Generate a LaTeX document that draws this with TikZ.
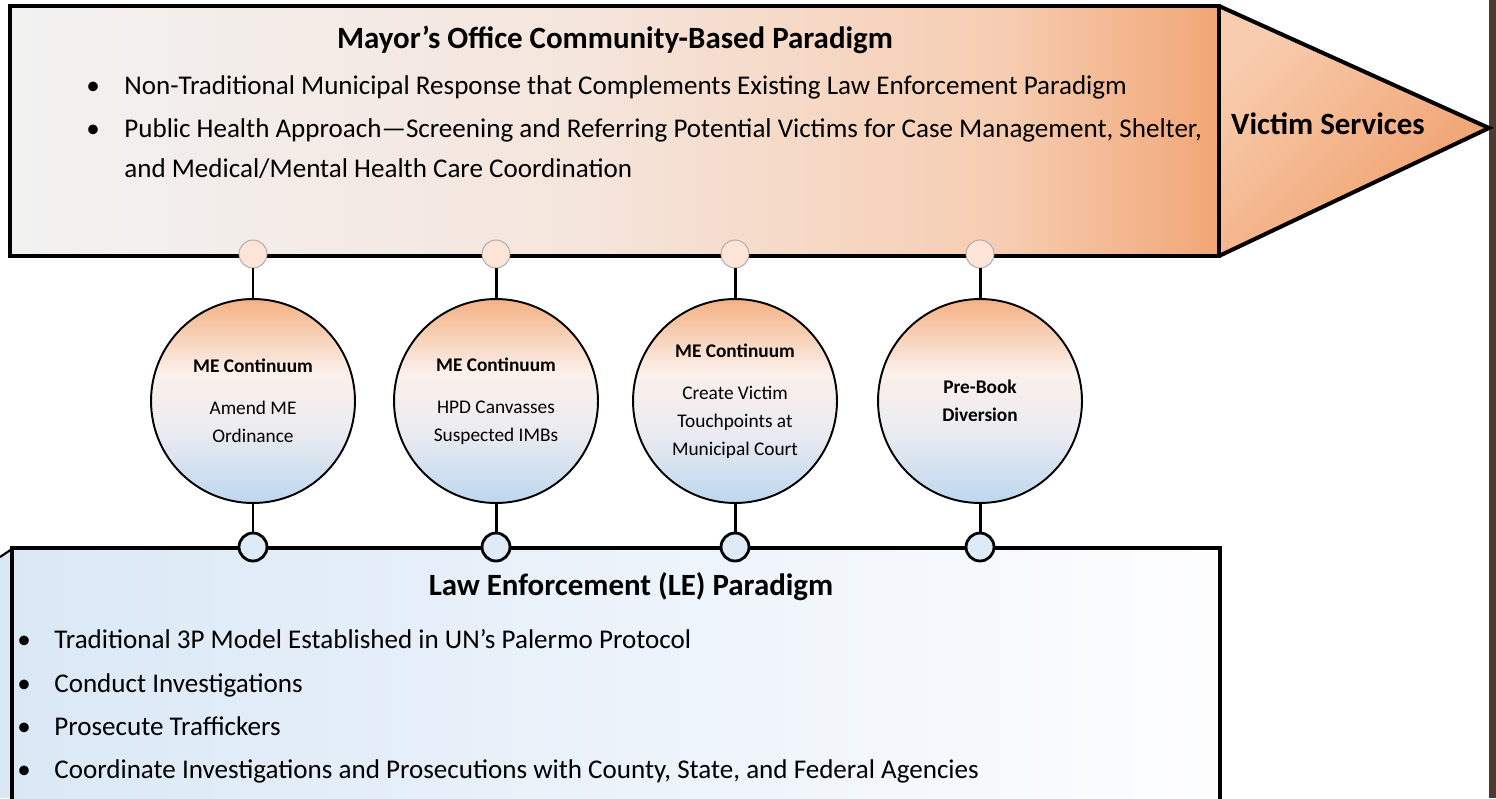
\documentclass[tikz,border=0pt]{standalone}
\usepackage{fontspec}
\setmainfont{Carlito}

\definecolor{mayorL}{HTML}{F2F2F2}
\definecolor{mayorM}{HTML}{F5E5DC}
\definecolor{mayorN}{HTML}{F6CDB2}
\definecolor{mayorR}{HTML}{F1A676}
\definecolor{arrowL}{HTML}{F8CCAE}
\definecolor{arrowR}{HTML}{EF9E6A}
\definecolor{leL}{HTML}{DAE8F6}
\definecolor{leR}{HTML}{FDFDFE}
\definecolor{bubT}{HTML}{F4B183}
\definecolor{bubW}{HTML}{FBF0EA}
\definecolor{bubG}{HTML}{ECECF0}
\definecolor{bubB}{HTML}{BDD7EE}
\definecolor{topdot}{HTML}{FCE4D6}
\definecolor{lowdot}{HTML}{DEEBF7}
\definecolor{strip}{HTML}{4E3B30}

\pgfdeclarehorizontalshading{mayorshade}{100bp}{color(0bp)=(mayorL); color(25bp)=(mayorL); color(49bp)=(mayorM); color(66bp)=(mayorN); color(75bp)=(mayorR); color(100bp)=(mayorR)}
\pgfdeclarehorizontalshading{leshade}{100bp}{color(0bp)=(leL); color(25bp)=(leL); color(75bp)=(leR); color(100bp)=(leR)}
\pgfdeclareverticalshading{bubbleshade}{100bp}{color(0bp)=(bubB); color(25bp)=(bubB); color(43bp)=(bubG); color(57bp)=(bubW); color(75bp)=(bubT); color(100bp)=(bubT)}

\begin{document}
\begin{tikzpicture}[x=0.02cm,y=-0.02cm]
\clip (0,0) rectangle (1496,798);
\fill[white] (0,0) rectangle (1496,798);
\fill[strip] (1489,0) rectangle (1496,798);

\tikzset{frame/.style={draw=black,line width=2.3pt},
  link/.style={line width=1.7pt},
  bubble/.style={circle,draw,line width=1.1pt,shading=bubbleshade,minimum size=4.08cm,inner sep=0pt,align=center,font=\fontsize{11}{16}\selectfont},
  topdotnode/.style={circle,draw=gray!70,line width=0.5pt,fill=topdot,minimum size=0.56cm,inner sep=0pt},
  lowdotnode/.style={circle,draw=black,line width=1.6pt,fill=lowdot,minimum size=0.56cm,inner sep=0pt},
  head/.style={font=\fontsize{17.6}{21}\selectfont\bfseries,anchor=base},
  item/.style={font=\fontsize{15.4}{24}\selectfont,anchor=base west,inner sep=0pt,align=left},
  dot/.style={font=\fontsize{15.4}{24}\selectfont,anchor=base,inner sep=0pt}};

% mayor's office banner
\shade[shading=mayorshade] (10,6) rectangle (1219,256);
\shade[left color=arrowL,right color=arrowR,shading angle=45] (1219,6) -- (1489,128) -- (1219,256) -- cycle;
\draw[frame,line join=miter] (1219,6) -- (10,6) -- (10,256) -- (1219,256) -- cycle;
\draw[frame,line join=miter] (1219,6) -- (1489,128) -- (1219,256);

\node[head] (mtitle) at (615,48) {Mayor’s Office Community-Based Paradigm};
\node[head] (victim) at (1328,134) {Victim Services};
\node[dot] (md1) at (93,94) {\textbullet};
\node[item] (mi1) at (124,94) {Non-Traditional Municipal Response that Complements Existing Law Enforcement Paradigm};
\node[dot] (md2) at (93,137) {\textbullet};
\node[item] (mi2) at (124,137) {Public Health Approach—Screening and Referring Potential Victims for Case Management, Shelter,};
\node[item] (mi3) at (124,177) {and Medical/Mental Health Care Coordination};

% law enforcement box
\fill[leL] (0,557) -- (12,549) -- (12,798) -- (0,798) -- cycle;
\draw[line width=1.2pt] (0,557) -- (12,549);
\shade[shading=leshade] (12,548) rectangle (1220,810);
\draw[frame,line join=miter] (12,810) -- (12,548) -- (1220,548) -- (1220,810);

\node[head] (ltitle) at (631,595) {Law Enforcement (LE) Paradigm};
\node[dot] (ld1) at (24,648) {\textbullet};
\node[item] (li1) at (54,648) {Traditional 3P Model Established in UN’s Palermo Protocol};
\node[dot] (ld2) at (24,692) {\textbullet};
\node[item] (li2) at (54,692) {Conduct Investigations};
\node[dot] (ld3) at (24,735) {\textbullet};
\node[item] (li3) at (54,735) {Prosecute Traffickers};
\node[dot] (ld4) at (24,778) {\textbullet};
\node[item] (li4) at (54,778) {Coordinate Investigations and Prosecutions with County, State, and Federal Agencies};

% continuum circles
\node[bubble] (c1) at (253,401) {\textbf{ME Continuum}\\[8pt]Amend ME\\Ordinance};
\node[bubble] (c2) at (496,401) {\textbf{ME Continuum}\\[8pt]HPD Canvasses\\Suspected IMBs};
\node[bubble] (c3) at (735,401) {\textbf{ME Continuum}\\[8pt]Create Victim\\Touchpoints at\\Municipal Court};
\node[bubble] (c4) at (980,401) {\textbf{Pre-Book}\\\textbf{Diversion}};

\node[topdotnode] (t1) at (253,254) {};
\node[topdotnode] (t2) at (496,254) {};
\node[topdotnode] (t3) at (735,254) {};
\node[topdotnode] (t4) at (980,254) {};

\node[lowdotnode] (b1) at (253,547) {};
\node[lowdotnode] (b2) at (496,547) {};
\node[lowdotnode] (b3) at (735,547) {};
\node[lowdotnode] (b4) at (980,547) {};

\foreach \i in {1,...,4} {
  \draw[link] (t\i) -- (c\i);
  \draw[link] (c\i) -- (b\i);
}
\end{tikzpicture}
\end{document}
